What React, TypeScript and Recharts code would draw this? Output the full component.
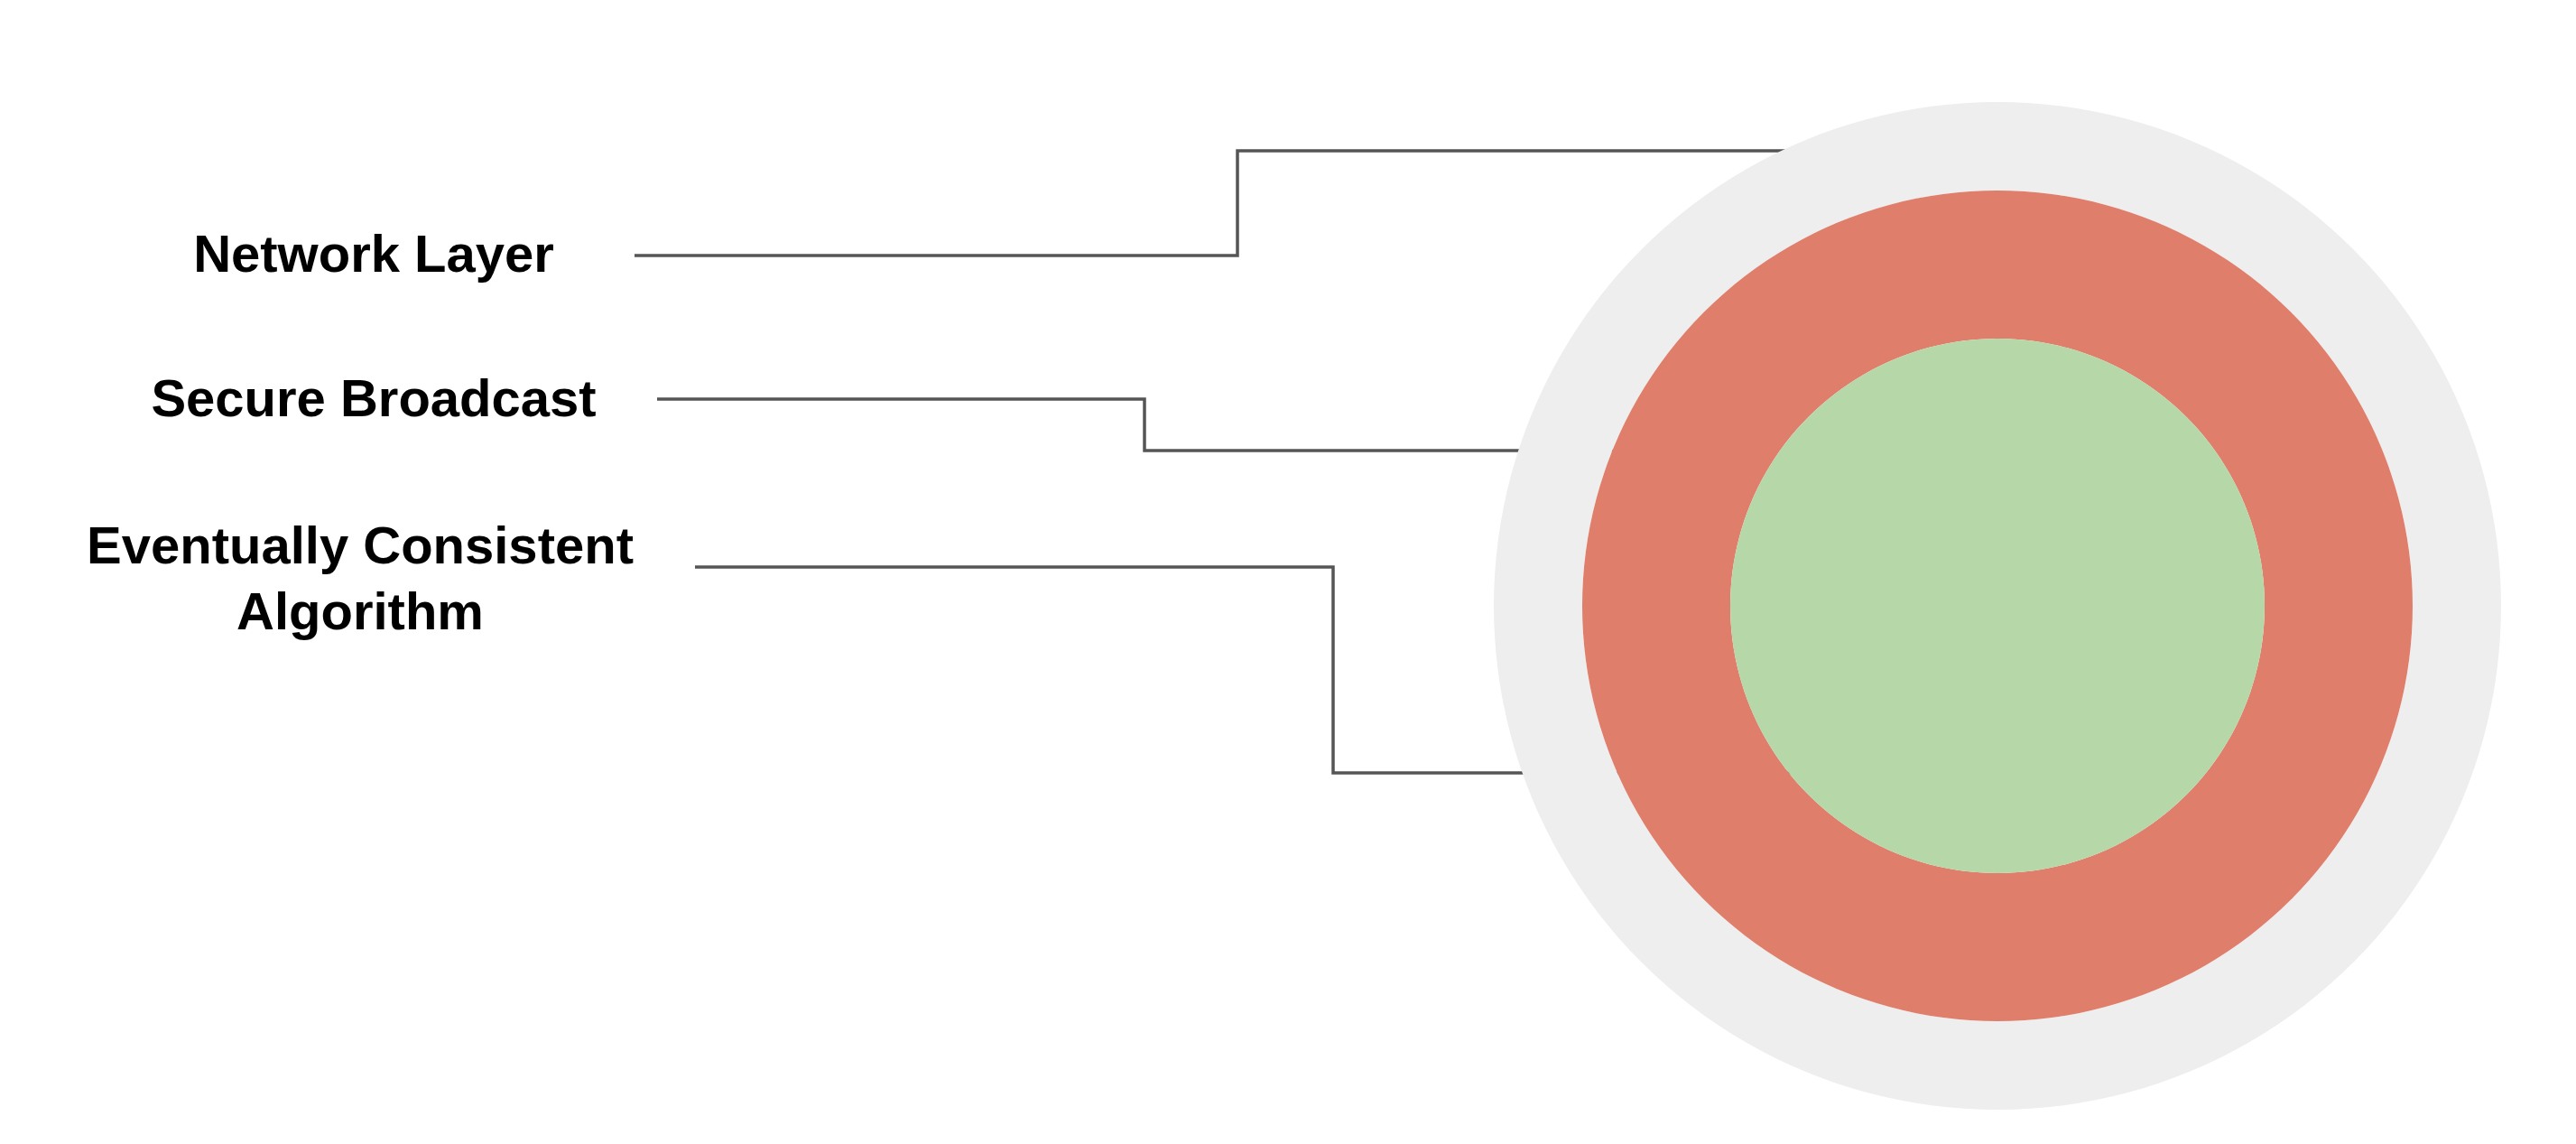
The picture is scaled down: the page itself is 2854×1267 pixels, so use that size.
import React from "react";
import { PieChart, Pie, Cell, Customized } from "recharts";

const layers = ["Network Layer", "Secure Broadcast", "Eventually Consistent Algorithm"];
const layerValues = [1, 1, 1];
const layerColors = ["#eeeeee", "#df7e6b", "#b6d7a8"];

const W = 2854, H = 1267, CX = 2208, CY = 666;
const radii = [[460, 558], [296, 460], [0, 296]];

const labels = [
  { lines: ["Network Layer"], x: 414, y: 281 },
  { lines: ["Secure Broadcast"], x: 414, y: 441 },
  { lines: ["Eventually Consistent", "Algorithm"], x: 399, y: 604 },
];
const leaders = [
  [[703, 283], [1371, 283], [1371, 167], [2094, 167]],
  [[728, 442], [1268, 442], [1268, 499], [1808, 499]],
  [[770, 628], [1477, 628], [1477, 856], [2183, 856]],
];

const Annotations = () => (
  <g>
    {leaders.map((pts, i) => (
      <polyline key={i} points={pts.map((p) => p.join(",")).join(" ")} fill="none" stroke="#555" strokeWidth={3.5} />
    ))}
    {labels.map((l, i) => (
      <text key={i} x={l.x} y={l.y} textAnchor="middle" fontFamily="Liberation Sans, Arial" fontWeight="bold" fontSize={58} fill="#000">
        {l.lines.map((t, j) => (
          <tspan key={j} x={l.x} dy={j === 0 ? "0.35em" : 73}>{t}</tspan>
        ))}
      </text>
    ))}
  </g>
);

export default function App() {
  return (
    <div style={{ position: "absolute", left: 0, top: 0, background: "#fff" }}>
      <PieChart width={W} height={H}>
        {layers.map((name, i) => (
          <Pie key={name} data={[{ name, value: layerValues[i] }]} dataKey="value" cx={CX} cy={CY}
            innerRadius={radii[i][0]} outerRadius={radii[i][1]} stroke="none" isAnimationActive={false}>
            <Cell fill={layerColors[i]} />
          </Pie>
        ))}
        <Customized component={Annotations} />
      </PieChart>
    </div>
  );
}
